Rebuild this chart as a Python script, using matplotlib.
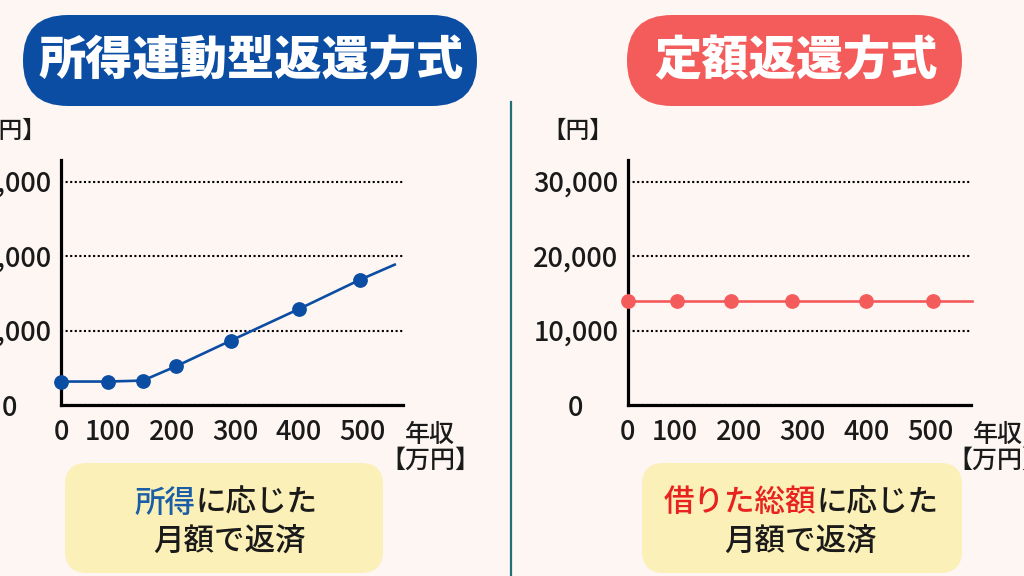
"""
Income-linked vs fixed repayment: two small line charts with captions.
"""

import numpy as np
import matplotlib.pyplot as plt
from matplotlib.patches import FancyBboxPatch

plt.rcParams['font.family'] = ['Noto Sans CJK JP', 'DejaVu Sans']

# ---- data ----
x_ticks = [0, 100, 200, 300, 400, 500]
y_ticks = [0, 10000, 20000, 30000]
y_tick_labels = ['0', '10,000', '20,000', '30,000']

# income-linked plan: income [万円] -> monthly payment [円]
linked_x = [0, 100, 155, 207, 293, 400, 495]
linked_y = [3150, 3150, 3280, 5200, 8650, 12900, 16800]
linked_end = (550, 18850)      # line runs on past the last marker

# fixed plan
fixed_x = [0, 104, 188, 283, 400, 504]
fixed_y = [14000, 14000, 14000, 14000, 14000, 14000]
fixed_end = (565, 14000)

titles = ['所得連動型返還方式', '定額返還方式']

# ---- colours ----
bg = '#fdf6f3'
blue = '#0b4da2'
red = '#f45b5b'
box_col = '#fbf0b7'
ink = '#1a1a1a'


def income_fwd(x):
    # the drawing squeezes 0-100 a little compared with the rest
    return np.interp(x, [-1000, 0, 100, 1000], [-470, 0, 47, 623])


def income_inv(p):
    return np.interp(p, [-470, 0, 47, 623], [-1000, 0, 100, 1000])


def draw_panel(ax, xs, ys, end, color):
    ax.set_facecolor('none')
    ax.set_xscale('function', functions=(income_fwd, income_inv))
    ax.set_xlim(0, 563)
    ax.set_ylim(0, 32900)

    ax.plot(list(xs) + [end[0]], list(ys) + [end[1]], color=color, lw=1.9,
            zorder=3, clip_on=False)
    ax.plot(xs, ys, 'o', ms=9.6, color=color, zorder=4, clip_on=False)

    for side in ['top', 'right']:
        ax.spines[side].set_visible(False)
    for side in ['left', 'bottom']:
        ax.spines[side].set_linewidth(2.3)
        ax.spines[side].set_color('black')

    ax.set_yticks(y_ticks)
    ax.set_yticklabels(y_tick_labels)
    ax.set_xticks(x_ticks)
    ax.set_xticklabels([str(t) for t in x_ticks])
    ax.minorticks_off()
    ax.tick_params(axis='both', length=0, labelsize=19.5, colors=ink)
    ax.tick_params(axis='y', pad=37.4)
    ax.tick_params(axis='x', pad=20)
    for lab in ax.get_yticklabels():
        lab.set_ha('center')
        lab.set_fontweight('medium')
    for lab in ax.get_xticklabels():
        lab.set_va('center')
        lab.set_fontweight('medium')

    ax.yaxis.grid(True, linestyle=(0, (1, 1.2)), lw=1.5, color='black')
    ax.set_axisbelow(True)


def two_tone(ax, cx, y, first, rest, color, size=22):
    # centre a line whose first part is coloured (full-width glyphs)
    em = size / 72 * 100
    x0 = cx - (len(first) + len(rest)) * em / 2
    t = ax.text(x0, y, first, color=color, fontsize=size, ha='left', va='center',
                fontweight='medium')
    ax.annotate(rest, xy=(1, 0.5), xycoords=t, ha='left', va='center',
                fontsize=size, color=ink, fontweight='medium')


fig = plt.figure(figsize=(10.24, 5.76), dpi=100, facecolor=bg)

# overlay in pixel units for the decorations
deco = fig.add_axes([0, 0, 1, 1], zorder=0)
deco.set_xlim(0, 1024)
deco.set_ylim(576, 0)
deco.axis('off')

# title pills
deco.add_patch(FancyBboxPatch((23, 15), 454, 91, boxstyle='round,pad=0,rounding_size=45',
                              fc=blue, ec='none'))
deco.add_patch(FancyBboxPatch((627, 15), 335, 91, boxstyle='round,pad=0,rounding_size=45',
                              fc=red, ec='none'))
deco.text(251, 61, titles[0], color='white', fontsize=34, fontweight='heavy',
          ha='center', va='center')
deco.text(796, 61, titles[1], color='white', fontsize=34, fontweight='heavy',
          ha='center', va='center')

# divider
deco.plot([511, 511], [102, 576], color='#22707a', lw=1.6)

# caption boxes
deco.add_patch(FancyBboxPatch((65, 463), 318, 110, boxstyle='round,pad=0,rounding_size=22',
                              fc=box_col, ec='none'))
deco.add_patch(FancyBboxPatch((642, 463), 320, 110, boxstyle='round,pad=0,rounding_size=22',
                              fc=box_col, ec='none'))
two_tone(deco, 226, 503, '所得', 'に応じた', '#1a5ea8')
deco.text(229, 541, '月額で返済', fontsize=22, color=ink, ha='center', va='center',
          fontweight='medium')
two_tone(deco, 801, 503, '借りた総額', 'に応じた', '#e8231f')
deco.text(800, 541, '月額で返済', fontsize=22, color=ink, ha='center', va='center',
          fontweight='medium')

# axis unit labels
for axis_x, right_x in [(61, 403), (627.7, 970.7)]:
    deco.text(axis_x - 50, 131, '【円】', fontsize=17, color=ink, ha='center',
              va='center', fontweight='medium')
    deco.text(right_x + 2, 435, '年収', fontsize=18, color=ink, ha='left',
              va='center', fontweight='medium')
    deco.text(right_x + 27, 461, '【万円】', fontsize=18, color=ink, ha='center',
              va='center', fontweight='medium')

# charts
ax1 = fig.add_axes([61 / 1024, 1 - 405 / 576, 342 / 1024, 245 / 576], zorder=1)
draw_panel(ax1, linked_x, linked_y, linked_end, blue)
ax2 = fig.add_axes([627.7 / 1024, 1 - 405 / 576, 343 / 1024, 245 / 576], zorder=1)
draw_panel(ax2, fixed_x, fixed_y, fixed_end, red)

plt.savefig('out.png', dpi=100, facecolor=bg)
